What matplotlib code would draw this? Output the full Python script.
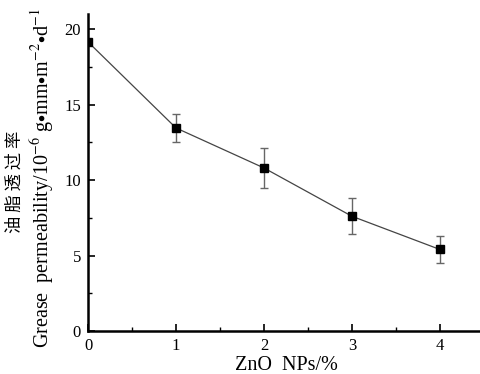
import numpy as np
import matplotlib.pyplot as plt
from matplotlib.ticker import MultipleLocator

# data
zno = [0, 1, 2, 3, 4]
permeability = [19.15, 13.45, 10.8, 7.6, 5.4]
err = [0.0, 0.95, 1.3, 1.2, 0.9]

plt.rcParams['font.family'] = ['Liberation Serif', 'Noto Sans CJK SC']
plt.rcParams['mathtext.fontset'] = 'stix'

fig = plt.figure(figsize=(4.81, 3.74), dpi=100)
ax = fig.add_axes([0.183, 0.115, 0.823, 0.8476])

ax.errorbar(zno, permeability, yerr=err, color='#444444', lw=0.9,
            ecolor='#666666', elinewidth=1.0, capsize=3, capthick=1.0,
            marker='s', ms=6, mfc='black', mec='black')

ax.set_xlim(0, 4.5)
ax.set_ylim(0, 21)
ax.xaxis.set_major_locator(MultipleLocator(1))
ax.xaxis.set_minor_locator(MultipleLocator(0.5))
ax.yaxis.set_major_locator(MultipleLocator(5))
ax.yaxis.set_minor_locator(MultipleLocator(2.5))
ax.tick_params(which='major', direction='in', length=5, width=1.2, labelsize=12, pad=5)
ax.tick_params(which='minor', direction='in', length=3, width=1.0)

ax.spines['top'].set_visible(False)
ax.spines['right'].set_visible(False)
ax.spines['left'].set_linewidth(1.8)
ax.spines['bottom'].set_linewidth(1.8)

ax.set_xlabel('ZnO  NPs/%', fontsize=14.5, labelpad=1.5)
fig.text(0.031, 0.513, '油 脂 透 过 率', rotation=90, ha='center', va='center',
         fontsize=12.5, family=['Noto Sans CJK SC'])
fig.text(0.09, 0.524,
         r'Grease  permeability/10$^{-6}$ g$\bullet$mm$\bullet$m$^{-2}$$\bullet$d$^{-1}$',
         rotation=90, ha='center', va='center', fontsize=14.5)

fig.savefig('out.png', dpi=100)
